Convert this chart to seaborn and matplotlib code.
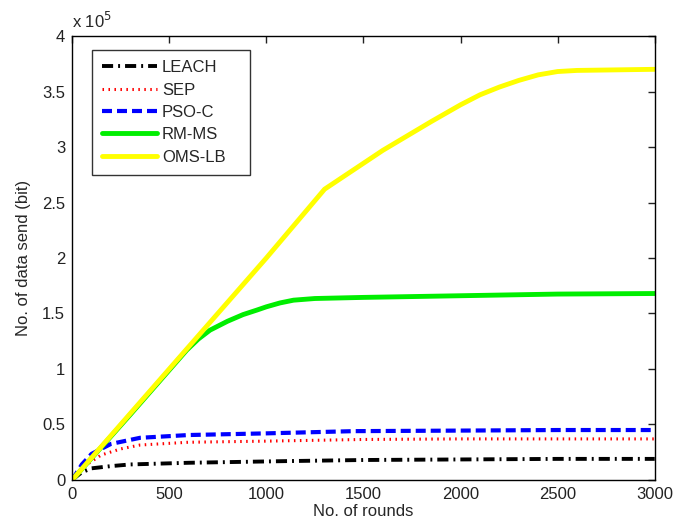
import matplotlib
matplotlib.use("Agg")
import matplotlib.pyplot as plt
import seaborn as sns
import pandas as pd
import numpy as np
from matplotlib.ticker import FuncFormatter, MultipleLocator

sns.set_style("white")
plt.rcParams['font.family'] = ['Liberation Sans', 'DejaVu Sans']
plt.rcParams['lines.scale_dashes'] = False

rounds_leach = [0, 50, 100, 200, 300, 600, 1100, 1500, 2000, 2500, 3000]
leach = [0, 7000, 10500, 12500, 14000, 15500, 17000, 18000, 18500, 19000, 19000]

rounds_sep = [0, 50, 150, 250, 350, 600, 1000, 1500, 2000, 2500, 3000]
sep = [0, 11000, 22500, 28000, 31500, 34000, 35000, 36500, 37000, 37000, 37000]

rounds_pso = [0, 50, 100, 200, 350, 600, 1000, 1450, 2000, 2500, 3000]
pso = [0, 14000, 23500, 32500, 38000, 40500, 42000, 44000, 44500, 45000, 45000]

rounds_rm = [0, 300, 590, 650, 710, 800, 880, 950, 1000, 1070, 1140, 1250, 1500, 2000, 2500, 3000]
rmms = [0, 59000, 117000, 127000, 135000, 143000, 149000, 153000, 156000, 159500, 162000, 163500, 164500, 166000, 167500, 168000]

rounds_oms = [0, 500, 1000, 1300, 1600, 1850, 2000, 2100, 2200, 2300, 2400, 2500, 2600, 3000]
omslb = [0, 100000, 200000, 262000, 297000, 323000, 338000, 347000, 354000, 360000, 365000, 368000, 369000, 370000]

fig = plt.figure(figsize=(6.87, 5.22), dpi=100)
ax = fig.add_axes([0.105, 0.0805, 0.848, 0.8505])

sns.lineplot(x=rounds_leach, y=leach, ax=ax, color='black', lw=2.8, label='LEACH')
ax.lines[-1].set_dashes([8, 3.6, 1.4, 3.6])
sns.lineplot(x=rounds_sep, y=sep, ax=ax, color='red', lw=2.2, label='SEP')
ax.lines[-1].set_dashes([1.1, 3.2])
sns.lineplot(x=rounds_pso, y=pso, ax=ax, color='blue', lw=3, label='PSO-C')
ax.lines[-1].set_dashes([7.2, 3.6])
sns.lineplot(x=rounds_rm, y=rmms, ax=ax, color='#00ee00', lw=3.5, label='RM-MS')
sns.lineplot(x=rounds_oms, y=omslb, ax=ax, color='#ffff00', lw=3.5, label='OMS-LB')

ax.set_xlim(0, 3000)
ax.set_ylim(0, 400000)
ax.xaxis.set_major_locator(MultipleLocator(500))
ax.yaxis.set_major_locator(MultipleLocator(50000))
ax.yaxis.set_major_formatter(FuncFormatter(lambda v, p: f"{v/1e5:g}"))
ax.tick_params(direction='in', length=5, width=1, top=True, right=True, labelsize=12, pad=5, colors='#222222')
for s in ax.spines.values():
    s.set_color('black')
    s.set_linewidth(1)
ax.set_xlabel('No. of rounds', fontsize=12, labelpad=1.5)
ax.set_ylabel('No. of data send (bit)', fontsize=12, labelpad=8)
ax.text(0.0, 1.012, r'x 10$^{5}$', transform=ax.transAxes, fontsize=12, ha='left', va='bottom')

leg = ax.legend(loc='upper left', bbox_to_anchor=(0.0343, 0.68, 0.271, 0.288), mode='expand',
                fontsize=12, frameon=True,
                fancybox=False, edgecolor='black', handlelength=3.3, handletextpad=0.3,
                labelspacing=0.44, borderpad=0.6, borderaxespad=0)
leg.get_frame().set_linewidth(1)

fig.savefig('out.png', dpi=100, facecolor='white')
